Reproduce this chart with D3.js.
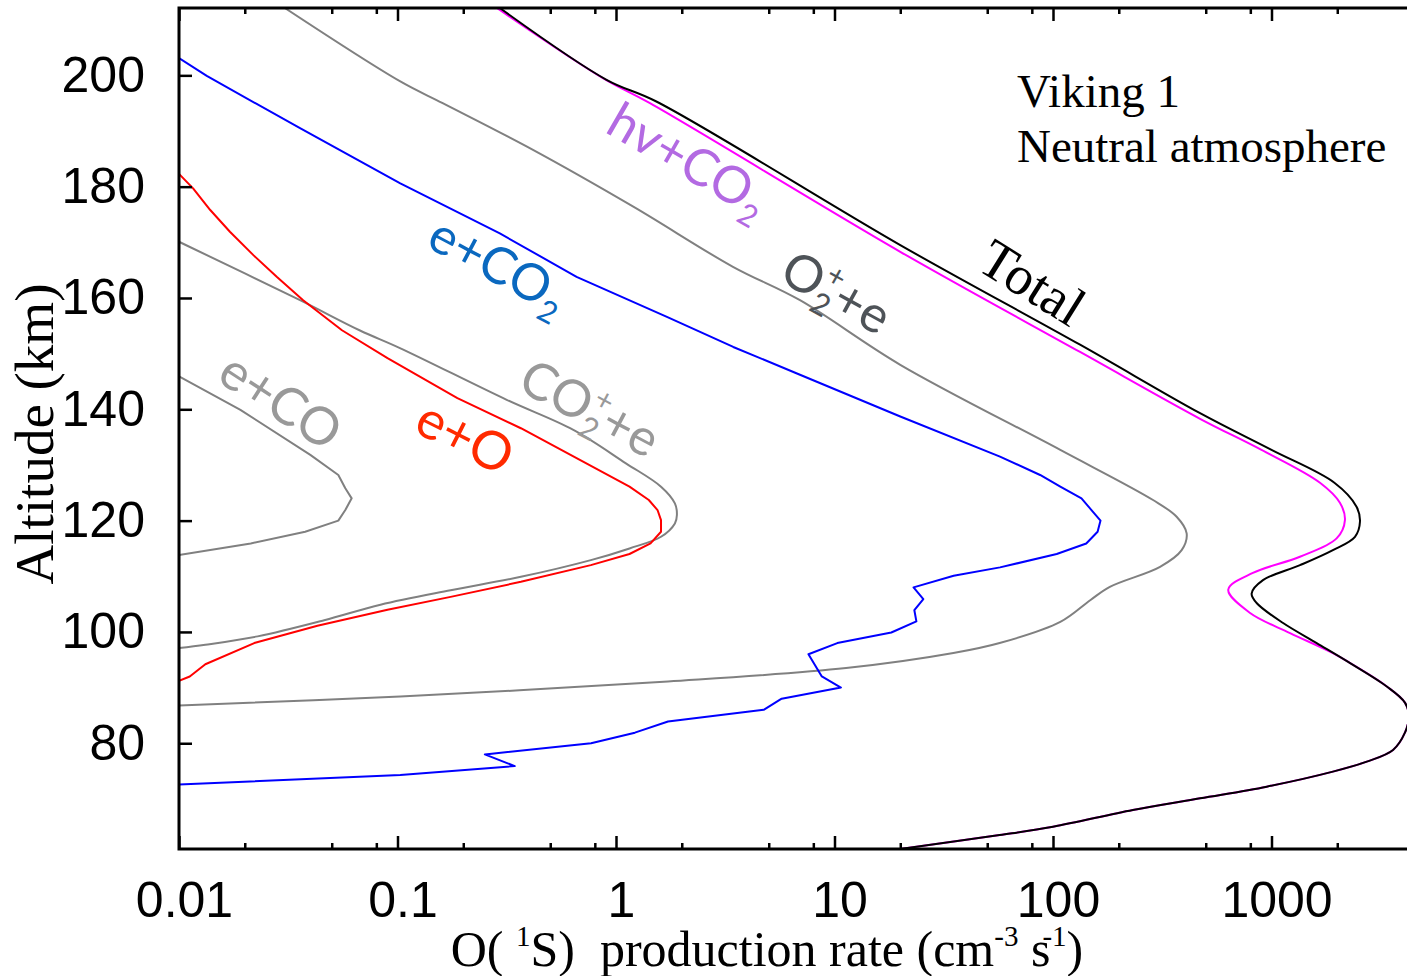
<!DOCTYPE html>
<html>
<head>
<meta charset="utf-8">
<script src="https://cdn.jsdelivr.net/npm/d3@7"></script>
<style>
  body { margin: 0; background: #fff; }
  svg { display: block; }
</style>
</head>
<body>
<svg id="chart" width="1407" height="976"></svg>
<script>
// each point: [altitude km, O(1S) production rate cm-3 s-1]
var total = [
  [212.1, 0.294], [199.2, 0.905], [195.3, 1.53], [169.5, 20], [151.6, 133],
  [139.3, 471], [132.7, 1000], [126.8, 1940], [122.5, 2450], [119.8, 2540],
  [117.1, 2410], [114.7, 1910], [112.0, 1350], [109.3, 914], [106.9, 811],
  [105.2, 855], [101.6, 1130], [98.0, 1610], [94.4, 2290], [90.2, 3370],
  [87.3, 4080], [84.8, 4250], [81.9, 4080], [78.8, 3600], [76.7, 2730],
  [74.9, 1910], [72.2, 951], [70.1, 471], [68.0, 232], [65.0, 100],
  [63.5, 57], [61.0, 20]
];
var hvCO2 = [
  [212.1, 0.285], [199.5, 0.871], [195.0, 1.43], [168.3, 20], [150.3, 133],
  [138.3, 471], [132.7, 900], [126.8, 1667], [123.2, 2056], [120.1, 2168],
  [116.8, 1986], [113.5, 1349], [110.6, 822], [107.6, 634], [103.4, 798],
  [99.8, 1216], [96.2, 1910], [94.4, 2290], [90.2, 3370], [87.3, 4080],
  [84.8, 4250], [81.9, 4080], [78.8, 3600], [76.7, 2730], [74.9, 1910],
  [72.2, 951], [70.1, 471], [68.0, 232], [65.0, 100], [63.5, 57], [61.0, 20]
];
var o2plus = [
  [212.1, 0.0305], [198.9, 0.103], [195.0, 0.161], [186.6, 0.417], [176.4, 1.20],
  [165.6, 3.43], [159.6, 6.95], [148.0, 20.0], [132.7, 108], [123.7, 287],
  [120.7, 368], [117.7, 409], [114.7, 388], [111.7, 309], [108.1, 182],
  [105.7, 148], [101.8, 108], [98.0, 57], [96.2, 35], [93.5, 11.3],
  [91.1, 1.73], [88.4, 0.103], [86.8, 0.01]
];
var eCO2 = [
  [203.1, 0.01], [199.9, 0.0134], [190.5, 0.0358], [180.6, 0.103], [171.6, 0.294],
  [163.8, 0.660], [156.6, 1.71], [151.2, 3.44], [146.2, 6.95], [138.7, 20],
  [131.5, 57.2], [128.2, 87.3], [126.1, 108], [124.0, 135], [121.9, 150],
  [120.0, 165], [118.0, 160], [115.9, 142], [114.0, 104], [111.6, 57.2],
  [110.1, 35.1], [108.0, 23.0], [105.9, 25.5], [103.9, 23.2], [101.9, 23.7],
  [99.9, 18.2], [98.0, 10.3], [96.0, 7.6], [92.0, 8.75], [90.0, 10.7],
  [88.0, 5.73], [86.0, 4.74], [83.9, 1.73], [81.9, 1.22], [80.0, 0.769],
  [78.0, 0.251], [75.9, 0.344], [74.3, 0.103], [72.6, 0.01]
];
var eO = [
  [182.3, 0.01], [179.7, 0.0116], [175.8, 0.0139], [171.9, 0.0171], [167.7, 0.0219],
  [163.8, 0.028], [159.6, 0.037], [154.2, 0.0557], [149.2, 0.090], [142.0, 0.188],
  [136.6, 0.367], [126.1, 1.153], [123.7, 1.413], [121.9, 1.549], [120.1, 1.607],
  [118.0, 1.607], [115.9, 1.439], [114.0, 1.153], [112.0, 0.767], [109.0, 0.367],
  [106.3, 0.175], [104.0, 0.090], [101.1, 0.043], [98.0, 0.0221], [94.2, 0.0132],
  [92.0, 0.0112], [91.2, 0.01]
];
var co2plus = [
  [170.1, 0.01], [159.6, 0.0358], [154.2, 0.067], [151.0, 0.1026], [141.7, 0.316],
  [136.3, 0.638], [130.3, 1.11], [126.1, 1.607], [123.1, 1.86], [121.0, 1.90],
  [119.5, 1.86], [117.1, 1.607], [115.0, 1.153], [112.9, 0.767], [109.9, 0.367],
  [107.5, 0.175], [104.9, 0.0836], [102.1, 0.0462], [99.2, 0.0229], [97.7, 0.0132],
  [97.1, 0.01]
];
var eCO = [
  [145.9, 0.01], [139.9, 0.0191], [131.8, 0.0399], [128.2, 0.0536], [125.8, 0.0577],
  [124.0, 0.0617], [121.9, 0.0577], [120.0, 0.0536], [118.0, 0.0378], [115.9, 0.0213],
  [113.8, 0.01]
];

var xTicks = [0.01, 0.1, 1, 10, 100, 1000];
var xTickLabels = ["0.01", "0.1", "1", "10", "100", "1000"];
var xMinorTicks = [0.02, 0.05, 0.08, 0.2, 0.5, 0.8, 2, 5, 8, 20, 50, 80, 200, 500, 800, 2000];
var yTicks = [80, 100, 120, 140, 160, 180, 200];

var plotLeft = 179, plotRight = 1407, plotTop = 8, plotBottom = 849;

var svg = d3.select("#chart");

var x = d3.scaleLog().domain([0.01, 4170]).range([plotLeft, plotRight]);
var y = d3.scaleLinear().domain([61, 212.1]).range([plotBottom, plotTop]);

svg.append("clipPath").attr("id", "plot")
  .append("rect")
  .attr("x", plotLeft).attr("y", plotTop)
  .attr("width", plotRight - plotLeft).attr("height", plotBottom - plotTop);

var line = d3.line()
  .x(function(d) { return x(d[1]); })
  .y(function(d) { return y(d[0]); });

var series = [
  { data: eCO, color: "#808080", curve: d3.curveLinear },
  { data: co2plus, color: "#808080", curve: d3.curveCatmullRom },
  { data: o2plus, color: "#808080", curve: d3.curveCatmullRom },
  { data: eO, color: "#ff0000", curve: d3.curveLinear },
  { data: eCO2, color: "#0000ff", curve: d3.curveLinear },
  { data: hvCO2, color: "#ff00ff", curve: d3.curveCatmullRom },
  { data: total, color: "#000000", curve: d3.curveCatmullRom }
];

var curves = svg.append("g").attr("clip-path", "url(#plot)");
series.forEach(function(s) {
  curves.append("path")
    .attr("d", line.curve(s.curve)(s.data))
    .attr("fill", "none")
    .attr("stroke", s.color)
    .attr("stroke-width", 2)
    .attr("stroke-linejoin", "round");
});

// axes
function styleAxis(g) {
  g.select(".domain").remove();
  g.selectAll(".tick line").attr("stroke", "#000").attr("stroke-width", 2.5);
  g.selectAll(".tick text")
    .attr("fill", "#000")
    .attr("font-family", "'Liberation Sans', Arial, sans-serif")
    .attr("font-size", 50);
}

svg.append("g")
  .attr("transform", "translate(0," + plotBottom + ")")
  .call(d3.axisBottom(x).tickValues(xTicks)
    .tickFormat(function(d, i) { return xTickLabels[i]; })
    .tickSize(-13).tickPadding(32))
  .call(styleAxis)
  .selectAll(".tick text").attr("dx", 5);

svg.append("g")
  .attr("transform", "translate(0," + plotBottom + ")")
  .call(d3.axisBottom(x).tickValues(xMinorTicks).tickFormat("").tickSize(-6))
  .call(styleAxis);

svg.append("g")
  .attr("transform", "translate(0," + plotTop + ")")
  .call(d3.axisTop(x).tickValues(xTicks).tickFormat("").tickSize(-13))
  .call(styleAxis);

svg.append("g")
  .attr("transform", "translate(0," + plotTop + ")")
  .call(d3.axisTop(x).tickValues(xMinorTicks).tickFormat("").tickSize(-6))
  .call(styleAxis);

svg.append("g")
  .attr("transform", "translate(" + plotLeft + ",0)")
  .call(d3.axisLeft(y).tickValues(yTicks).tickSize(-13).tickPadding(34))
  .call(styleAxis);

// frame (no right side)
svg.append("path")
  .attr("d", "M" + plotRight + "," + plotTop + "H" + plotLeft + "V" + plotBottom + "H" + plotRight)
  .attr("fill", "none")
  .attr("stroke", "#000")
  .attr("stroke-width", 3);

// axis titles
svg.append("text")
  .attr("transform", "translate(53,434) rotate(-90)")
  .attr("text-anchor", "middle")
  .attr("font-family", "'Liberation Serif', 'Times New Roman', serif")
  .attr("font-size", 55)
  .text("Altitude (km)");

var xt = svg.append("text")
  .attr("x", 767).attr("y", 966)
  .attr("text-anchor", "middle")
  .attr("font-family", "'Liberation Serif', 'Times New Roman', serif")
  .attr("font-size", 50)
  .style("white-space", "pre");
xt.append("tspan").text("O( ");
xt.append("tspan").attr("font-size", 29).attr("dy", -20).text("1");
xt.append("tspan").attr("dy", 20).text("S)  production rate (cm");
xt.append("tspan").attr("font-size", 29).attr("dy", -20).text("-3");
xt.append("tspan").attr("dy", 20).text(" s");
xt.append("tspan").attr("font-size", 29).attr("dy", -20).attr("dx", -8).text("-1");
xt.append("tspan").attr("dy", 20).text(")");

// note
var note = svg.append("g")
  .attr("font-family", "'Liberation Serif', 'Times New Roman', serif")
  .attr("font-size", 47);
note.append("text").attr("x", 1017).attr("y", 107).text("Viking 1");
note.append("text").attr("x", 1017).attr("y", 162).text("Neutral atmosphere");

// curve labels, anchored at [rate, altitude]
function addLabel(parts, at, angle, size, color, family) {
  var t = svg.append("text")
    .attr("transform", "translate(" + x(at[0]) + "," + y(at[1]) + ") rotate(" + angle + ")")
    .attr("y", size * 0.35)
    .attr("text-anchor", "middle")
    .attr("font-family", family)
    .attr("font-size", size)
    .attr("fill", color);
  var shift = 0;
  parts.forEach(function(p) {
    var target = p.sub ? size * 0.22 : (p.sup ? -size * 0.42 : 0);
    var ts = t.append("tspan").text(p.t).attr("dy", target - shift);
    if (p.sub || p.sup) ts.attr("font-size", size * 0.6);
    if (p.back) ts.attr("dx", -size * 0.6 * 0.56);
    shift = target;
  });
}

var sans = "Lato, 'Noto Sans', sans-serif";
var serif = "'Liberation Serif', 'Times New Roman', serif";

addLabel([{ t: "hv+CO" }, { t: "2", sub: true }], [2.15, 184.8], 30, 51, "#b36ae2", sans);
addLabel([{ t: "e+CO" }, { t: "2", sub: true }], [0.29, 165.9], 28, 51, "#0a68bf", sans);
addLabel([{ t: "O" }, { t: "2", sub: true }, { t: "+", sup: true, back: true }, { t: "+e" }],
  [10.2, 161.0], 29, 51, "#4e5358", sans);
addLabel([{ t: "Total" }], [80.9, 162.9], 32, 55, "#000000", serif);
addLabel([{ t: "CO" }, { t: "2", sub: true }, { t: "+", sup: true, back: true }, { t: "+e" }],
  [0.76, 140.2], 28, 51, "#999999", sans);
addLabel([{ t: "e+CO" }], [0.0292, 141.5], 33, 52, "#999999", sans);
addLabel([{ t: "e+O" }], [0.204, 135.0], 27, 53, "#ff2a00", sans);
</script>
</body>
</html>
